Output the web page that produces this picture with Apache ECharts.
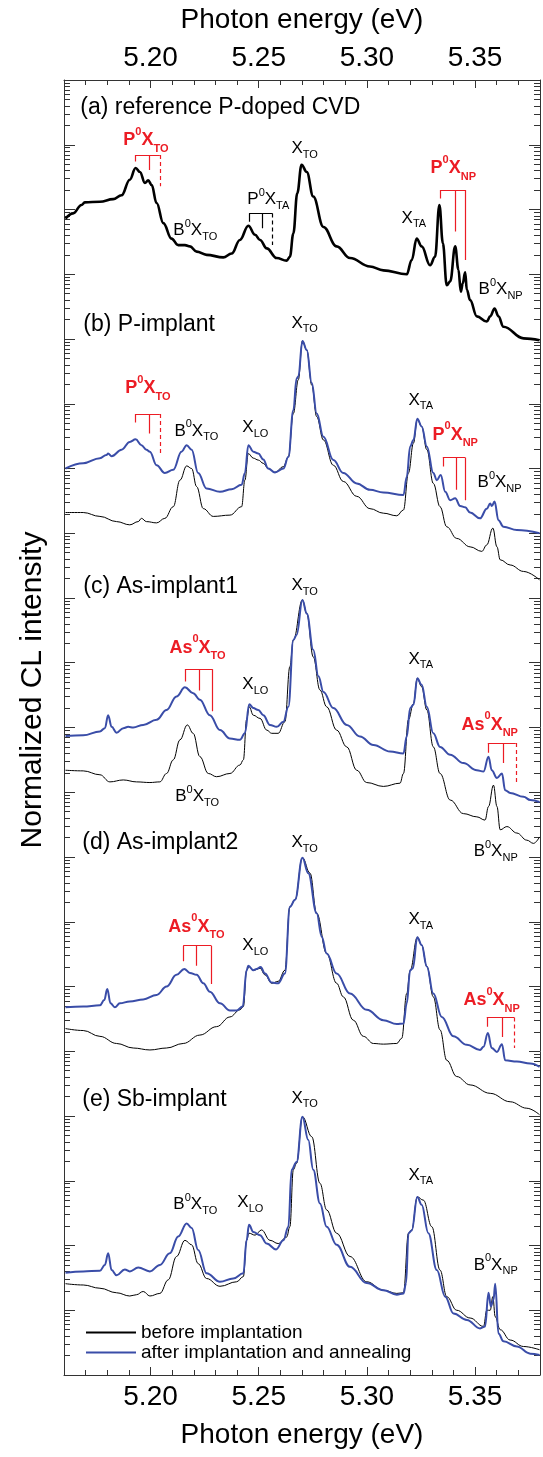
<!DOCTYPE html>
<html>
<head>
    <meta charset="utf-8">
    <script src="https://cdn.jsdelivr.net/npm/echarts@6/dist/echarts.min.js"></script>
    <style>
        html, body { margin: 0; padding: 0; background: #fff; }
    </style>
</head>
<body>
<div id="cl-chart" style="width: 543px; height: 1457px;"></div>
<script>
  // photon energy axis (eV)
  var xMin = 5.16, xMax = 5.38;
  var xMajor = [5.20, 5.25, 5.30, 5.35];
  var xMinor = [5.16, 5.17, 5.18, 5.19, 5.21, 5.22, 5.23, 5.24, 5.26, 5.27, 5.28, 5.29,
                5.31, 5.32, 5.33, 5.34, 5.36, 5.37, 5.38];
  // log intensity axis, in decades (spectra are stacked with offsets)
  var decades = 20;

  // (a) reference P-doped CVD  [energy, log10 intensity]
  var refCvd = [[5.1607,17.86],[5.1642,17.94],[5.1681,18.07],[5.1696,18.11],[5.1766,18.12],[5.1827,18.16],[5.1866,18.22],[5.1904,18.46],[5.1931,18.64],[5.1951,18.58],[5.1974,18.41],[5.1989,18.45],[5.2005,18.38],[5.2028,18.10],[5.2059,17.79],[5.2097,17.55],[5.2128,17.45],[5.2159,17.45],[5.2182,17.43],[5.2213,17.35],[5.2259,17.30],[5.2336,17.26],[5.2375,17.32],[5.2413,17.53],[5.2452,17.75],[5.2483,17.61],[5.2506,17.53],[5.2537,17.40],[5.2583,17.25],[5.2629,17.21],[5.2644,17.27],[5.2660,17.63],[5.2678,18.25],[5.2698,18.69],[5.2722,18.58],[5.2752,18.20],[5.2799,17.73],[5.2860,17.43],[5.2922,17.25],[5.3014,17.12],[5.3076,17.06],[5.3184,17.00],[5.3207,17.22],[5.3230,17.55],[5.3253,17.43],[5.3292,17.14],[5.3315,17.27],[5.3335,18.07],[5.3351,17.48],[5.3369,16.83],[5.3385,16.89],[5.3408,17.43],[5.3423,17.07],[5.3434,16.73],[5.3443,16.86],[5.3454,17.03],[5.3462,16.76],[5.3477,16.60],[5.3508,16.35],[5.3554,16.27],[5.3570,16.35],[5.3590,16.47],[5.3608,16.35],[5.3631,16.19],[5.3724,16.01],[5.3798,15.98]];

  // (b) P-implant
  var pAfter = [[5.1607,14.00],[5.1689,14.08],[5.1766,14.16],[5.1796,14.21],[5.1804,14.23],[5.1820,14.19],[5.1866,14.29],[5.1904,14.41],[5.1931,14.45],[5.1958,14.36],[5.1981,14.29],[5.1997,14.26],[5.2028,14.05],[5.2066,13.93],[5.2105,13.98],[5.2143,14.26],[5.2167,14.36],[5.2190,14.29],[5.2220,13.93],[5.2259,13.69],[5.2321,13.64],[5.2375,13.68],[5.2421,13.75],[5.2436,13.93],[5.2452,14.36],[5.2475,14.26],[5.2498,14.23],[5.2521,14.14],[5.2544,14.00],[5.2575,13.94],[5.2614,14.00],[5.2637,14.18],[5.2660,14.90],[5.2675,15.39],[5.2683,15.42],[5.2702,15.97],[5.2722,15.83],[5.2745,15.32],[5.2768,14.85],[5.2799,14.49],[5.2845,14.13],[5.2891,13.93],[5.2953,13.77],[5.3014,13.67],[5.3076,13.63],[5.3169,13.59],[5.3184,13.87],[5.3200,14.34],[5.3215,14.44],[5.3233,14.77],[5.3253,14.65],[5.3277,14.34],[5.3307,13.93],[5.3323,13.82],[5.3341,13.90],[5.3362,13.64],[5.3385,13.51],[5.3408,13.54],[5.3431,13.42],[5.3454,13.40],[5.3477,13.32],[5.3523,13.23],[5.3554,13.38],[5.3570,13.46],[5.3577,13.42],[5.3590,13.49],[5.3608,13.20],[5.3631,13.10],[5.3693,13.05],[5.3798,13.00]];
  var pBefore = [[5.1607,13.32],[5.1689,13.32],[5.1766,13.26],[5.1843,13.18],[5.1904,13.13],[5.1943,13.18],[5.1958,13.23],[5.1981,13.18],[5.2028,13.16],[5.2066,13.23],[5.2105,13.41],[5.2136,13.82],[5.2167,14.04],[5.2190,14.00],[5.2213,13.72],[5.2244,13.38],[5.2290,13.26],[5.2367,13.28],[5.2421,13.41],[5.2436,13.82],[5.2452,14.23],[5.2475,14.16],[5.2498,14.13],[5.2521,14.08],[5.2544,14.00],[5.2575,13.94],[5.2614,14.03],[5.2637,14.18],[5.2660,14.85],[5.2683,15.37],[5.2702,15.97],[5.2722,15.83],[5.2745,15.29],[5.2768,14.80],[5.2799,14.44],[5.2845,14.05],[5.2891,13.80],[5.2953,13.57],[5.3014,13.38],[5.3076,13.31],[5.3138,13.27],[5.3169,13.36],[5.3192,13.93],[5.3215,14.39],[5.3233,14.76],[5.3253,14.65],[5.3277,14.29],[5.3307,13.77],[5.3338,13.41],[5.3369,13.10],[5.3415,12.92],[5.3477,12.79],[5.3531,12.72],[5.3554,12.82],[5.3582,13.08],[5.3601,12.79],[5.3616,12.59],[5.3662,12.51],[5.3724,12.41],[5.3798,12.28]];

  // (c) As-implant1
  var as1After = [[5.1607,9.87],[5.1689,9.88],[5.1766,9.94],[5.1789,9.99],[5.1804,10.19],[5.1820,10.01],[5.1843,9.92],[5.1874,9.99],[5.1897,10.01],[5.1920,10.00],[5.1966,10.04],[5.2028,10.12],[5.2074,10.27],[5.2120,10.48],[5.2159,10.62],[5.2197,10.53],[5.2228,10.43],[5.2274,10.19],[5.2321,9.96],[5.2367,9.83],[5.2413,9.81],[5.2436,9.91],[5.2456,10.36],[5.2475,10.30],[5.2498,10.27],[5.2521,10.19],[5.2552,10.04],[5.2583,10.01],[5.2614,10.09],[5.2637,10.32],[5.2660,11.35],[5.2675,11.43],[5.2702,11.97],[5.2722,11.76],[5.2752,11.20],[5.2776,10.79],[5.2799,10.55],[5.2845,10.30],[5.2907,10.04],[5.2968,9.86],[5.3030,9.73],[5.3107,9.63],[5.3169,9.60],[5.3184,9.86],[5.3200,10.30],[5.3215,10.35],[5.3233,10.76],[5.3253,10.66],[5.3277,10.32],[5.3307,9.91],[5.3338,9.70],[5.3385,9.58],[5.3446,9.45],[5.3508,9.34],[5.3539,9.32],[5.3562,9.55],[5.3577,9.34],[5.3601,9.22],[5.3624,9.29],[5.3639,9.03],[5.3662,8.99],[5.3724,8.93],[5.3755,8.88],[5.3798,8.85]];
  var as1Before = [[5.1607,9.34],[5.1689,9.33],[5.1766,9.27],[5.1812,9.16],[5.1874,9.19],[5.1935,9.16],[5.1997,9.15],[5.2043,9.16],[5.2074,9.29],[5.2105,9.50],[5.2136,9.81],[5.2170,10.04],[5.2197,9.91],[5.2228,9.55],[5.2267,9.29],[5.2305,9.24],[5.2367,9.29],[5.2413,9.42],[5.2429,9.50],[5.2444,10.12],[5.2456,10.32],[5.2475,10.19],[5.2506,10.14],[5.2537,9.96],[5.2560,9.91],[5.2590,9.91],[5.2621,10.09],[5.2644,10.94],[5.2660,11.35],[5.2702,11.97],[5.2722,11.76],[5.2752,11.09],[5.2783,10.58],[5.2814,10.32],[5.2860,9.96],[5.2907,9.70],[5.2953,9.34],[5.2999,9.15],[5.3076,9.09],[5.3153,9.14],[5.3169,9.29],[5.3192,10.12],[5.3215,10.37],[5.3233,10.76],[5.3253,10.63],[5.3277,10.27],[5.3307,9.70],[5.3338,9.29],[5.3385,8.88],[5.3446,8.67],[5.3508,8.62],[5.3546,8.57],[5.3562,8.78],[5.3585,9.11],[5.3601,8.78],[5.3616,8.42],[5.3647,8.47],[5.3693,8.37],[5.3739,8.26],[5.3770,8.21],[5.3798,8.31]];

  // (d) As-implant2
  var as2After = [[5.1607,5.68],[5.1689,5.69],[5.1766,5.71],[5.1786,5.79],[5.1800,5.96],[5.1815,5.74],[5.1835,5.68],[5.1858,5.74],[5.1904,5.77],[5.1966,5.80],[5.2028,5.87],[5.2074,6.00],[5.2120,6.18],[5.2156,6.27],[5.2182,6.21],[5.2213,6.18],[5.2244,6.05],[5.2274,5.92],[5.2321,5.74],[5.2367,5.63],[5.2398,5.63],[5.2426,5.69],[5.2444,6.25],[5.2452,6.32],[5.2475,6.25],[5.2490,6.27],[5.2509,6.30],[5.2529,6.20],[5.2560,6.06],[5.2590,6.05],[5.2621,6.20],[5.2644,7.23],[5.2668,7.34],[5.2702,7.99],[5.2729,7.75],[5.2768,7.13],[5.2791,6.77],[5.2814,6.51],[5.2860,6.20],[5.2922,5.89],[5.2999,5.64],[5.3076,5.48],[5.3138,5.42],[5.3169,5.43],[5.3184,5.74],[5.3200,6.25],[5.3212,6.28],[5.3233,6.76],[5.3253,6.64],[5.3277,6.31],[5.3307,5.89],[5.3346,5.53],[5.3400,5.23],[5.3462,5.10],[5.3523,5.02],[5.3539,5.07],[5.3559,5.28],[5.3577,5.05],[5.3601,4.99],[5.3624,5.11],[5.3639,4.86],[5.3693,4.84],[5.3755,4.81],[5.3798,4.76]];
  var as2Before = [[5.1607,5.35],[5.1689,5.32],[5.1766,5.23],[5.1843,5.12],[5.1920,5.05],[5.1997,5.02],[5.2074,5.05],[5.2151,5.12],[5.2228,5.25],[5.2305,5.38],[5.2367,5.53],[5.2413,5.64],[5.2429,5.69],[5.2444,6.25],[5.2455,6.31],[5.2475,6.25],[5.2506,6.28],[5.2529,6.18],[5.2560,6.05],[5.2590,6.08],[5.2621,6.25],[5.2644,7.23],[5.2668,7.34],[5.2702,7.99],[5.2737,7.75],[5.2768,7.13],[5.2814,6.51],[5.2860,6.05],[5.2891,5.84],[5.2937,5.48],[5.2984,5.23],[5.3030,5.12],[5.3076,5.11],[5.3138,5.12],[5.3161,5.20],[5.3184,5.89],[5.3200,6.25],[5.3233,6.76],[5.3253,6.64],[5.3277,6.31],[5.3307,5.84],[5.3338,5.33],[5.3369,4.86],[5.3415,4.61],[5.3477,4.48],[5.3570,4.35],[5.3662,4.22],[5.3739,4.12],[5.3798,4.02]];

  // (e) Sb-implant
  var sbAfter = [[5.1607,1.58],[5.1689,1.60],[5.1766,1.61],[5.1789,1.70],[5.1804,1.88],[5.1820,1.62],[5.1843,1.54],[5.1881,1.63],[5.1904,1.60],[5.1943,1.66],[5.1997,1.60],[5.2043,1.70],[5.2089,1.88],[5.2128,2.14],[5.2167,2.34],[5.2190,2.27],[5.2220,1.93],[5.2259,1.57],[5.2321,1.44],[5.2382,1.49],[5.2429,1.57],[5.2444,2.08],[5.2455,2.32],[5.2475,2.21],[5.2506,2.16],[5.2537,2.03],[5.2580,1.94],[5.2614,2.08],[5.2637,2.29],[5.2652,3.17],[5.2675,3.29],[5.2702,3.99],[5.2729,3.63],[5.2752,3.17],[5.2783,2.65],[5.2814,2.29],[5.2860,2.01],[5.2922,1.67],[5.2999,1.42],[5.3076,1.31],[5.3138,1.24],[5.3169,1.26],[5.3181,1.42],[5.3192,2.19],[5.3207,2.23],[5.3233,2.75],[5.3253,2.63],[5.3284,2.19],[5.3323,1.62],[5.3362,1.21],[5.3400,0.95],[5.3462,0.85],[5.3523,0.72],[5.3546,0.75],[5.3562,1.27],[5.3573,1.06],[5.3585,1.16],[5.3593,1.41],[5.3608,0.64],[5.3631,0.52],[5.3693,0.44],[5.3755,0.33],[5.3798,0.31]];
  var sbBefore = [[5.1607,1.41],[5.1689,1.39],[5.1766,1.34],[5.1843,1.27],[5.1904,1.22],[5.1935,1.24],[5.1966,1.29],[5.1997,1.22],[5.2043,1.26],[5.2082,1.47],[5.2120,1.83],[5.2159,2.08],[5.2190,2.01],[5.2220,1.72],[5.2259,1.49],[5.2321,1.37],[5.2398,1.44],[5.2429,1.52],[5.2444,2.08],[5.2455,2.19],[5.2483,2.16],[5.2513,2.24],[5.2552,2.08],[5.2590,2.03],[5.2629,2.13],[5.2644,2.29],[5.2660,3.17],[5.2675,3.27],[5.2702,3.99],[5.2745,3.68],[5.2783,2.96],[5.2814,2.55],[5.2860,2.19],[5.2922,1.83],[5.2999,1.44],[5.3076,1.31],[5.3138,1.26],[5.3169,1.27],[5.3192,2.19],[5.3207,2.24],[5.3233,2.75],[5.3261,2.70],[5.3300,2.29],[5.3338,1.62],[5.3369,1.21],[5.3415,1.00],[5.3477,0.88],[5.3539,0.75],[5.3554,1.00],[5.3570,1.00],[5.3582,1.21],[5.3593,0.90],[5.3616,0.70],[5.3662,0.54],[5.3724,0.44],[5.3798,0.39]];

  // line assignments: [x1, x2, x3], top, [end1, end2, end3], third dashed, red?
  var brackets = [
    [[5.1931, 5.1994, 5.2043], 18.84, [18.74, 18.61, 18.36], true,  true],   // (a) P0X TO
    [[5.2455, 5.2518, 5.2564], 17.94, [17.81, 17.71, 17.45], true,  false],  // (a) P0X TA
    [[5.3338, 5.3408, 5.3454], 18.30, [18.17, 17.66, 17.22], false, true],   // (a) P0X NP
    [[5.1931, 5.1994, 5.2043], 14.84, [14.71, 14.54, 14.21], true,  true],   // (b) P0X TO
    [[5.3351, 5.3415, 5.3454], 14.17, [14.03, 13.67, 13.51], false, true],   // (b) P0X NP
    [[5.2159, 5.2224, 5.2287], 10.90, [10.71, 10.57, 10.25], false, true],   // (c) As0X TO
    [[5.3559, 5.3628, 5.3688],  9.76, [ 9.61,  9.45,  9.14], true,  true],   // (c) As0X NP
    [[5.2151, 5.2213, 5.2281],  6.63, [ 6.39,  6.32,  6.04], false, true],   // (d) As0X TO
    [[5.3554, 5.3625, 5.3681],  5.52, [ 5.38,  5.22,  5.05], true,  true]    // (d) As0X NP
  ];

  // text annotations: [energy, decade, rich text]
  var notes = [
    [5.1673, 19.58, '{t|(a) reference P-doped CVD}'],
    [5.1872, 19.07, '{rm|P}{ru|0}{rm|X}{rs|TO}'],
    [5.2649, 18.95, '{m|X}{s|TO}'],
    [5.2103, 17.68, '{m|B}{u|0}{m|X}{s|TO}'],
    [5.2445, 18.15, '{m|P}{u|0}{m|X}{s|TA}'],
    [5.3158, 17.87, '{m|X}{s|TA}'],
    [5.3292, 18.64, '{rm|P}{ru|0}{rm|X}{rs|NP}'],
    [5.3514, 16.76, '{m|B}{u|0}{m|X}{s|NP}'],

    [5.1687, 16.22, '{t|(b) P-implant}'],
    [5.2649, 16.25, '{m|X}{s|TO}'],
    [5.1881, 15.24, '{rm|P}{ru|0}{rm|X}{rs|TO}'],
    [5.2108, 14.58, '{m|B}{u|0}{m|X}{s|TO}'],
    [5.2422, 14.64, '{m|X}{s|LO}'],
    [5.3190, 15.06, '{m|X}{s|TA}'],
    [5.3301, 14.52, '{rm|P}{ru|0}{rm|X}{rs|NP}'],
    [5.3509, 13.78, '{m|B}{u|0}{m|X}{s|NP}'],

    [5.1687, 12.17, '{t|(c) As-implant1}'],
    [5.2649, 12.20, '{m|X}{s|TO}'],
    [5.2085, 11.23, '{rm|As}{ru|0}{rm|X}{rs|TO}'],
    [5.2422, 10.66, '{m|X}{s|LO}'],
    [5.3190, 11.06, '{m|X}{s|TA}'],
    [5.3435, 10.04, '{rm|As}{ru|0}{rm|X}{rs|NP}'],
    [5.2112,  8.94, '{m|B}{u|0}{m|X}{s|TO}'],
    [5.3491,  8.09, '{m|B}{u|0}{m|X}{s|NP}'],

    [5.1682,  8.22, '{t|(d) As-implant2}'],
    [5.2649,  8.22, '{m|X}{s|TO}'],
    [5.2080,  6.92, '{rm|As}{ru|0}{rm|X}{rs|TO}'],
    [5.2422,  6.64, '{m|X}{s|LO}'],
    [5.3190,  7.04, '{m|X}{s|TA}'],
    [5.3444,  5.79, '{rm|As}{ru|0}{rm|X}{rs|NP}'],

    [5.1682,  4.25, '{t|(e) Sb-implant}'],
    [5.2649,  4.28, '{m|X}{s|TO}'],
    [5.2103,  2.64, '{m|B}{u|0}{m|X}{s|TO}'],
    [5.2399,  2.66, '{m|X}{s|LO}'],
    [5.3190,  3.09, '{m|X}{s|TA}'],
    [5.3491,  1.70, '{m|B}{u|0}{m|X}{s|NP}']
  ];

  var FONT = '"Liberation Sans", Arial, sans-serif';
  var INK = '#000';
  var RED = '#ec1c24';
  var BLUE = '#3a4da8';
  var BEFORE = 'before implantation';
  var AFTER = 'after implantation and annealing';

  // log minor tick positions, 2..9 in every decade
  var yMajor = [], yMinor = [];
  for (var n = 0; n <= decades; n++) {
    yMajor.push(n);
    if (n < decades) {
      for (var k = 2; k <= 9; k++) yMinor.push(n + Math.log10(k));
    }
  }

  var segs = [];
  brackets.forEach(function (b) {
    var col = b[4] ? RED : INK;
    segs.push({coords: [[b[0][0], b[1]], [b[0][2], b[1]]], lineStyle: {color: col}});
    for (var i = 0; i < 3; i++) {
      segs.push({
        coords: [[b[0][i], b[1]], [b[0][i], b[2][i]]],
        lineStyle: {color: col, type: (b[3] && i === 2) ? [4, 3] : 'solid'}
      });
    }
  });

  function xAxisOf(pos, major) {
    return {
      type: 'value', position: pos, min: xMin, max: xMax,
      axisLine: {show: major, onZero: false, lineStyle: {color: '#333', width: 1}},
      axisTick: {inside: true, length: major ? 8 : 5, customValues: major ? xMajor : xMinor,
                 lineStyle: {color: '#333'}},
      axisLabel: {show: major, customValues: xMajor, fontSize: 28, fontFamily: FONT, color: INK,
                  margin: 8, formatter: function (v) { return v.toFixed(2); }},
      splitLine: {show: false},
      name: major ? 'Photon energy (eV)' : '',
      nameLocation: 'middle', nameGap: 46,
      nameTextStyle: {fontSize: 28, fontFamily: FONT, color: INK}
    };
  }

  function yAxisOf(pos, major) {
    return {
      type: 'value', position: pos, min: 0, max: decades,
      axisLine: {show: major, onZero: false, lineStyle: {color: '#333', width: 1}},
      axisTick: {inside: true, length: major ? 11 : 6, customValues: major ? yMajor : yMinor,
                 lineStyle: {color: '#333'}},
      axisLabel: {show: false},
      splitLine: {show: false}
    };
  }

  function spectrum(name, data, color, width) {
    return {
      name: name, type: 'line', data: data, symbol: 'none',
      smooth: 0.4, smoothMonotone: 'x',
      lineStyle: {color: color, width: width}, itemStyle: {color: color},
      silent: true, z: width > 1.5 ? 4 : 3
    };
  }

  var myChart = echarts.init(document.getElementById('cl-chart'));
  var option = {
    animation: false,
    backgroundColor: '#fff',
    textStyle: {fontFamily: FONT},
    grid: {left: 64, top: 80, width: 476, height: 1295, containLabel: false},
    xAxis: [xAxisOf('bottom', true), xAxisOf('bottom', false), xAxisOf('top', true), xAxisOf('top', false)],
    yAxis: [yAxisOf('left', true), yAxisOf('left', false), yAxisOf('right', true), yAxisOf('right', false)],
    // y title sits a little above the axis middle, as in the figure
    graphic: [{
      type: 'text', x: 33, y: 690, rotation: Math.PI / 2, silent: true,
      style: {text: 'Normalized CL intensity', fontSize: 30, fontFamily: FONT, fill: INK,
              align: 'center', verticalAlign: 'middle'}
    }],
    legend: {
      data: [BEFORE, AFTER], orient: 'vertical', left: 80, top: 1318,
      itemWidth: 50, itemHeight: 14, itemGap: 1, selectedMode: false,
      itemStyle: {opacity: 0},
      textStyle: {fontSize: 19, fontFamily: FONT, color: INK}
    },
    series: [
      spectrum('reference P-doped CVD', refCvd, INK, 2.6),
      spectrum(BEFORE, pBefore, INK, 1),
      spectrum(AFTER, pAfter, BLUE, 2),
      spectrum(BEFORE, as1Before, INK, 1),
      spectrum(AFTER, as1After, BLUE, 2),
      spectrum(BEFORE, as2Before, INK, 1),
      spectrum(AFTER, as2After, BLUE, 2),
      spectrum(BEFORE, sbBefore, INK, 1),
      spectrum(AFTER, sbAfter, BLUE, 2),
      {
        type: 'lines', coordinateSystem: 'cartesian2d', data: segs, silent: true, z: 5,
        lineStyle: {width: 1.2, opacity: 1, curveness: 0}
      },
      {
        type: 'scatter', data: notes, symbolSize: 1, silent: true, z: 6,
        itemStyle: {color: 'transparent', opacity: 1},
        label: {
          show: true, position: 'right', distance: 0, opacity: 1,
          formatter: function (p) { return p.data[2]; },
          rich: {
            t:  {fontSize: 23, lineHeight: 28, color: INK, fontFamily: FONT},
            m:  {fontSize: 17, lineHeight: 24, color: INK, fontFamily: FONT},
            s:  {fontSize: 11, lineHeight: 11, verticalAlign: 'bottom', color: INK, fontFamily: FONT},
            u:  {fontSize: 11, lineHeight: 15, verticalAlign: 'top', color: INK, fontFamily: FONT},
            rm: {fontSize: 18, lineHeight: 28, fontWeight: 'bold', color: RED, fontFamily: FONT},
            rs: {fontSize: 11, lineHeight: 11, fontWeight: 'bold', verticalAlign: 'bottom', color: RED, fontFamily: FONT},
            ru: {fontSize: 11, lineHeight: 16, fontWeight: 'bold', verticalAlign: 'top', color: RED, fontFamily: FONT}
          }
        }
      }
    ]
  };
  myChart.setOption(option);
</script>
</body>
</html>
